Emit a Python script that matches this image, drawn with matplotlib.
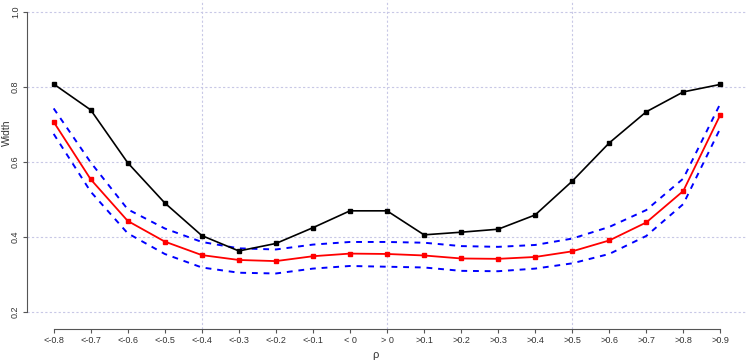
import matplotlib
matplotlib.use("Agg")
import matplotlib.pyplot as plt
import numpy as np

plt.rcParams["font.family"] = ["Liberation Sans", "DejaVu Sans"]

# categories of rho
labels = ["<-0.8", "<-0.7", "<-0.6", "<-0.5", "<-0.4", "<-0.3", "<-0.2", "<-0.1", "< 0",
          "> 0", ">0.1", ">0.2", ">0.3", ">0.4", ">0.5", ">0.6", ">0.7", ">0.8", ">0.9"]

black_width = [0.808, 0.739, 0.598, 0.491, 0.404, 0.363, 0.383, 0.425, 0.470,
               0.470, 0.406, 0.413, 0.421, 0.459, 0.549, 0.651, 0.734, 0.787, 0.807]
red_width = [0.707, 0.554, 0.443, 0.388, 0.352, 0.339, 0.336, 0.349, 0.356,
             0.355, 0.351, 0.343, 0.342, 0.347, 0.362, 0.391, 0.439, 0.523, 0.726]
upper_band = [0.743, 0.599, 0.474, 0.423, 0.387, 0.370, 0.367, 0.380, 0.387,
              0.387, 0.385, 0.376, 0.374, 0.379, 0.396, 0.427, 0.472, 0.556, 0.756]
lower_band = [0.675, 0.521, 0.410, 0.355, 0.319, 0.305, 0.303, 0.316, 0.323,
              0.321, 0.319, 0.310, 0.309, 0.316, 0.330, 0.355, 0.403, 0.488, 0.690]

W, H = 748, 363
fig = plt.figure(figsize=(W / 100, H / 100), dpi=100)
ax = fig.add_axes([27 / W, 34 / H, 720 / W, 329 / H])

x = np.arange(len(labels))
grid_col = "#c8c8e6"

# grid (R style)
for yv in [0.2, 0.4, 0.6, 0.8, 1.0]:
    ax.axhline(yv, color=grid_col, lw=0.8, ls=(0, (2, 2)), zorder=0)
for xv in [4, 9, 14]:
    ax.axvline(xv, color=grid_col, lw=0.8, ls=(0, (2, 2)), zorder=0)

ax.plot(x, upper_band, color="#0000ff", lw=1.4, ls=(0, (3, 3)))
ax.plot(x, lower_band, color="#0000ff", lw=1.4, ls=(0, (3, 3)))
ax.plot(x, black_width, color="black", lw=1.2, marker="s", ms=3.5)
ax.plot(x, red_width, color="#ff0000", lw=1.3, marker="s", ms=3.5)

ax.set_xlim(-0.72, 18.72)
ax.set_ylim(0.155, 1.032)

for s in ["top", "right"]:
    ax.spines[s].set_visible(False)
ax.spines["left"].set_bounds(0.2, 1.0)
ax.spines["bottom"].set_bounds(0, 18)
ax.spines["left"].set_color("#555555")
ax.spines["bottom"].set_color("#555555")

ax.set_xticks(x)
ax.set_xticklabels(labels)
ax.set_yticks([0.2, 0.4, 0.6, 0.8, 1.0])
ax.set_yticklabels(["0.2", "0.4", "0.6", "0.8", "1.0"], rotation=90, va="center")
ax.tick_params(axis="both", labelsize=6.5, length=3, colors="#555555",
               labelcolor="#333333", pad=2)

# axis titles placed like the R output
fig.text(7 / W, 1 - 133 / H, "Width", rotation=90, ha="center", va="center",
         fontsize=7.5, color="#333333")
fig.text(375 / W, 1 - 355 / H, "ρ", ha="center", va="center",
         fontsize=8, color="#333333")

fig.savefig("out.png", dpi=100)
